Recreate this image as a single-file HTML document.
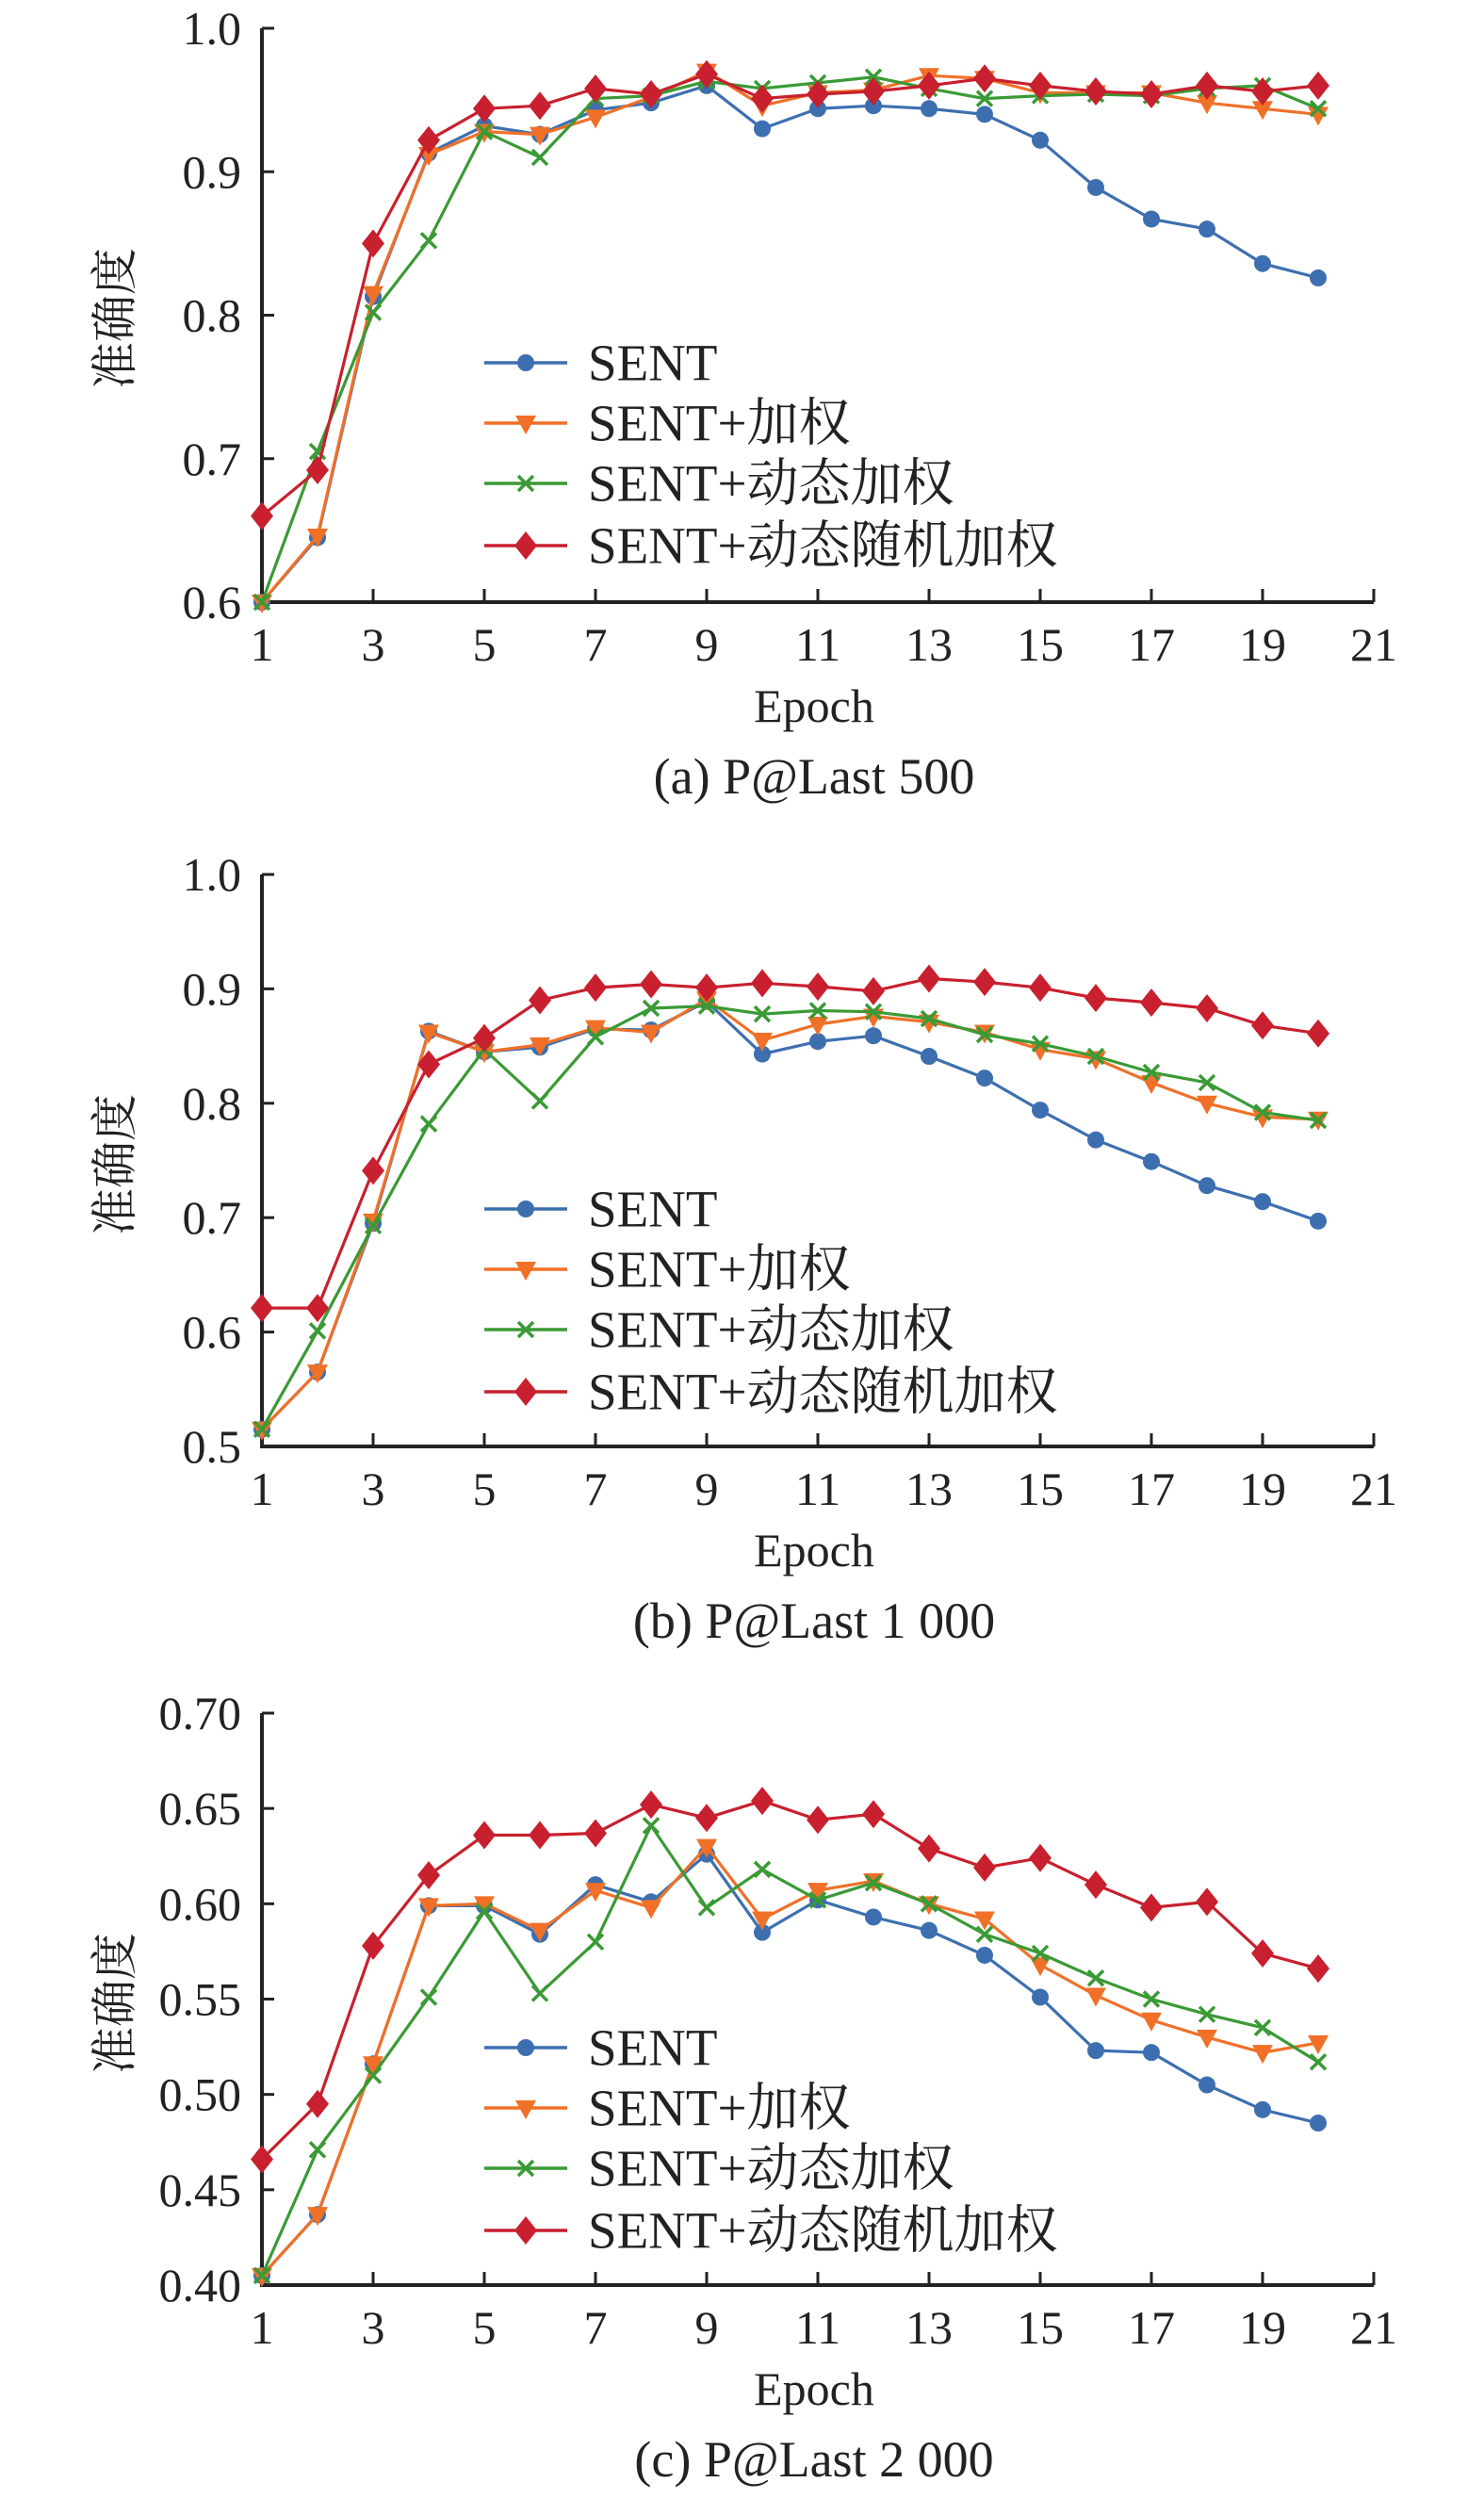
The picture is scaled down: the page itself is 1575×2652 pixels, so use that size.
<!DOCTYPE html>
<html><head><meta charset="utf-8"><style>
html,body{margin:0;padding:0;background:#fff}
svg{display:block}
text{font-family:"Liberation Serif","Noto Serif CJK SC","Noto Sans CJK SC",serif;fill:#222}
</style></head><body>
<svg id="chart" width="1575" height="2652" viewBox="0 0 1575 2652" xmlns="http://www.w3.org/2000/svg"></svg>
<script>
const epochs = [1,2,3,4,5,6,7,8,9,10,11,12,13,14,15,16,17,18,19,20];
const seriesNames = ["SENT","SENT+加权","SENT+动态加权","SENT+动态随机加权"];
const xTicks = [1,3,5,7,9,11,13,15,17,19,21];
const aSent = [0.600,0.645,0.813,0.913,0.932,0.926,0.943,0.948,0.960,0.930,0.944,0.946,0.944,0.940,0.922,0.889,0.867,0.860,0.836,0.826];
const aW = [0.600,0.646,0.815,0.912,0.928,0.926,0.938,0.952,0.970,0.946,0.955,0.957,0.967,0.965,0.955,0.955,0.955,0.948,0.944,0.940];
const aDyn = [0.600,0.705,0.802,0.852,0.928,0.910,0.951,0.953,0.963,0.958,0.962,0.966,0.958,0.951,0.953,0.954,0.953,0.958,0.960,0.944];
const aRnd = [0.660,0.692,0.850,0.922,0.944,0.946,0.958,0.954,0.968,0.951,0.954,0.956,0.960,0.965,0.960,0.956,0.954,0.960,0.956,0.960];
const aTicks = ["0.6","0.7","0.8","0.9","1.0"];
const bSent = [0.515,0.565,0.695,0.863,0.845,0.849,0.865,0.864,0.889,0.843,0.854,0.859,0.841,0.822,0.794,0.768,0.749,0.728,0.714,0.697];
const bW = [0.515,0.565,0.697,0.862,0.845,0.851,0.866,0.862,0.891,0.855,0.869,0.876,0.871,0.862,0.847,0.839,0.818,0.800,0.788,0.786];
const bDyn = [0.515,0.601,0.693,0.782,0.847,0.802,0.858,0.883,0.885,0.878,0.881,0.880,0.874,0.860,0.852,0.841,0.827,0.818,0.792,0.785];
const bRnd = [0.621,0.621,0.741,0.834,0.857,0.890,0.901,0.904,0.901,0.905,0.902,0.898,0.909,0.906,0.901,0.892,0.888,0.883,0.868,0.861];
const bTicks = ["0.5","0.6","0.7","0.8","0.9","1.0"];
const cSent = [0.405,0.437,0.516,0.599,0.599,0.584,0.610,0.601,0.626,0.585,0.602,0.593,0.586,0.573,0.551,0.523,0.522,0.505,0.492,0.485];
const cW = [0.405,0.437,0.516,0.599,0.600,0.586,0.607,0.598,0.630,0.592,0.607,0.612,0.600,0.592,0.568,0.552,0.539,0.530,0.522,0.527];
const cDyn = [0.405,0.471,0.510,0.551,0.596,0.553,0.580,0.641,0.598,0.618,0.602,0.611,0.600,0.584,0.574,0.561,0.550,0.542,0.535,0.517];
const cRnd = [0.466,0.495,0.578,0.615,0.636,0.636,0.637,0.652,0.645,0.654,0.644,0.647,0.629,0.619,0.624,0.610,0.598,0.601,0.574,0.566];
const cTicks = ["0.40","0.45","0.50","0.55","0.60","0.65","0.70"];

const NS="http://www.w3.org/2000/svg";
const svg=document.getElementById('chart');
const colors=["#3d6fb0","#f07028","#3a9a35","#c8202e"];
function mk(tag,attrs,parent){const e=document.createElementNS(NS,tag);for(const k in attrs)e.setAttribute(k,attrs[k]);(parent||svg).appendChild(e);return e;}
function marker(g,kind,x,y,c){
  let m;
  if(kind===0){m=mk('circle',{cx:x,cy:y,r:9,fill:c},g);}
  else if(kind===1){m=mk('polygon',{points:`${x-11},${y-8} ${x+11},${y-8} ${x},${y+12}`,fill:c},g);}
  else if(kind===2){m=mk('path',{d:`M${x-8},${y-8}L${x+8},${y+8}M${x-8},${y+8}L${x+8},${y-8}`,stroke:c,'stroke-width':3.5,fill:'none'},g);}
  else {m=mk('polygon',{points:`${x},${y-15} ${x+12},${y} ${x},${y+15} ${x-12},${y}`,fill:c},g);}
  
  
}
function panel(id,top,bottom,ymin,ymax,ticks,series,caption){
  const X0=278,X1=1458;
  const xs=v=>X0+(v-1)/20*(X1-X0);
  const ys=v=>bottom-(v-ymin)/(ymax-ymin)*(bottom-top);
  const g=mk('g',{});
  
  
  const ax=mk('path',{d:`M${X0},${top}V${bottom}H${X1}`,stroke:'#222','stroke-width':4,fill:'none'},g);
  
  
  ticks.forEach(t=>{const v=parseFloat(t);const y=ys(v);
    mk('line',{x1:X0,x2:X0+13,y1:y,y2:y,stroke:'#222','stroke-width':3},g);
    const tx=mk('text',{x:256,y:y,'font-size':50,'text-anchor':'end','dominant-baseline':'central'},g);
    tx.textContent=t;
    
    
  });
  xTicks.forEach(t=>{const x=xs(t);
    mk('line',{x1:x,x2:x,y1:bottom,y2:bottom-14,stroke:'#222','stroke-width':3},g);
    const tx=mk('text',{x:x,y:bottom+45,'font-size':50,'text-anchor':'middle','dominant-baseline':'central'},g);
    tx.textContent=t;
    
    
  });
  const yt=mk('text',{x:0,y:0,'font-size':50,'text-anchor':'middle','dominant-baseline':'central',transform:`translate(118,${top+308}) rotate(-90)`,style:'font-family:"Noto Serif CJK SC","Noto Sans CJK SC",serif'},g);
  yt.textContent='准确度';
  
  
  const xt=mk('text',{x:864,y:bottom+110,'font-size':50,'text-anchor':'middle','dominant-baseline':'central'},g);
  xt.textContent='Epoch';
  
  
  const ct=mk('text',{x:864,y:bottom+185,'font-size':54,'text-anchor':'middle','dominant-baseline':'central'},g);
  ct.textContent=caption;
  
  
  series.forEach((s,i)=>{
    const sg=mk('g',{},g);
    
    
    const pts=s.map((v,j)=>xs(epochs[j]).toFixed(1)+','+ys(v).toFixed(1)).join(' ');
    const pl=mk('polyline',{points:pts,fill:'none',stroke:colors[i],'stroke-width':3.2},sg);
    
    
    s.forEach((v,j)=>marker(sg,i,xs(epochs[j]),ys(v),colors[i]));
  });
  const lg=mk('g',{},g);
  
  
  [355,419,483,549].forEach((dy,i)=>{
    const y=top+dy;
    const eg=mk('g',{},lg);
    
    
    mk('line',{x1:514,x2:602,y1:y,y2:y,stroke:colors[i],'stroke-width':3.5},eg);
    marker(eg,i,558,y,colors[i]);
    const t=mk('text',{x:624,y:y,'font-size':55,'dominant-baseline':'central'},eg);
    t.textContent=seriesNames[i];
  });
}
panel('panel-a',30,639,0.6,1.0,aTicks,[aSent,aW,aDyn,aRnd],'(a) P@Last 500');
panel('panel-b',928,1535,0.5,1.0,bTicks,[bSent,bW,bDyn,bRnd],'(b) P@Last 1 000');
panel('panel-c',1818,2425,0.40,0.70,cTicks,[cSent,cW,cDyn,cRnd],'(c) P@Last 2 000');
</script>
</body></html>
